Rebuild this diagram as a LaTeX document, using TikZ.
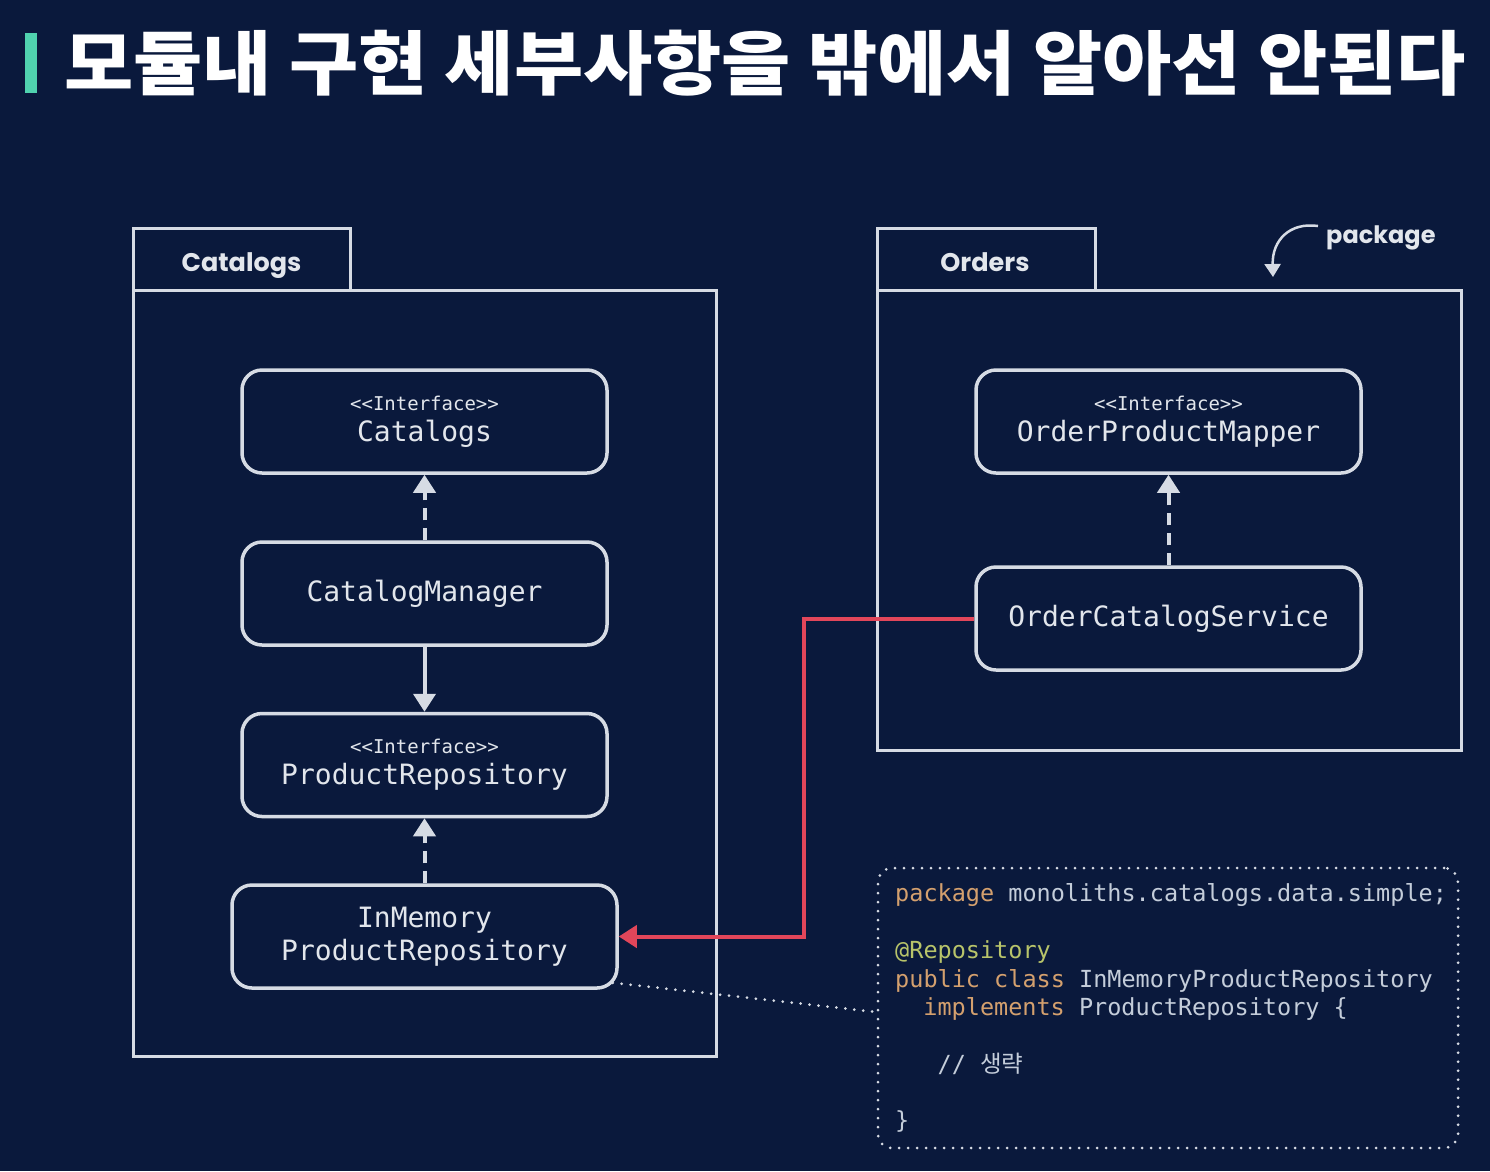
\documentclass[tikz,border=0pt]{standalone}
\usepackage{fontspec}
\setmonofont{DejaVu Sans Mono}
\newfontfamily\cjk{Noto Sans CJK KR}
\newfontfamily\rnd{Poppins}
\usetikzlibrary{arrows.meta,calc}
\definecolor{bgc}{RGB}{10,25,60}
\definecolor{linec}{RGB}{214,219,228}
\definecolor{txtc}{RGB}{226,230,236}
\definecolor{redc}{RGB}{226,70,90}
\definecolor{barc}{RGB}{80,210,175}
\definecolor{kwc}{RGB}{212,160,110}
\definecolor{annc}{RGB}{184,196,106}
\definecolor{codec}{RGB}{196,205,218}
\newcommand\stereo{{\fontsize{19}{22}\selectfont\symbol{60}\symbol{60}Interface\symbol{62}\symbol{62}}}
\tikzset{
  frame/.style={draw=linec, line width=3pt, inner sep=0pt},
  tabtext/.style={text=txtc, inner sep=0pt, font=\rnd\bfseries\fontsize{25.5}{30}\selectfont},
  cls/.style={draw=linec, line width=3.5pt, rounded corners=20pt, minimum width=365pt,
    minimum height=103pt, inner sep=0pt, text=txtc, align=center,
    font=\ttfamily\fontsize{28}{33}\selectfont},
  tip/.style={-{Triangle[length=18pt,width=22pt]}},
  dep/.style={tip, draw=linec, line width=4pt, dash pattern=on 12pt off 8pt},
  uses/.style={tip, draw=linec, line width=4pt},
  callred/.style={tip, draw=redc, line width=4pt},
  dotline/.style={draw=linec, line width=3pt, line cap=round, dash pattern=on 0pt off 9pt},
  codeline/.style={anchor=base west, inner sep=0pt, text=codec, font=\ttfamily\fontsize{23.5}{28}\selectfont},
}
\begin{document}
\begin{tikzpicture}[x=1pt,y=-1pt]
\useasboundingbox (0,0) rectangle (1490,1171);
\fill[bgc] (0,0) rectangle (1490,1171);

% title
\node[fill=barc, minimum width=12pt, minimum height=60pt, inner sep=0pt] (bar) at (31,63) {};
\node[anchor=base west, inner sep=0pt, text=white, font=\cjk\bfseries\fontsize{70}{70}\selectfont] (title) at (64,89) {\scalebox{1.075}[1]{모듈내 구현 세부사항을 밖에서 알아선 안된다}};

% Catalogs package
\node[frame, minimum width=217pt, minimum height=62pt] (cattab) at (241.5,259) {};
\node[tabtext, anchor=base] (cattabtext) at (241.5,271) {Catalogs};
\node[frame, minimum width=583pt, minimum height=766pt] (catbody) at (424.5,673) {};

% Orders package
\node[frame, minimum width=218pt, minimum height=62pt] (ordtab) at (986,259) {};
\node[tabtext, anchor=base] (ordtabtext) at (985,271) {Orders};
\node[frame, minimum width=584pt, minimum height=460pt] (ordbody) at (1169,520) {};

% package annotation
\node[tabtext, anchor=base west, font=\rnd\bfseries\fontsize{24}{28}\selectfont] (pkglabel) at (1326,243) {package};
\coordinate (pkgstart) at (1318,226);
\coordinate (pkgend) at (1273,277);
\draw[draw=linec, line width=2.5pt, -{Triangle[length=13pt,width=16pt]}] (pkgstart) .. controls (1290,222) and (1272,240) .. (pkgend);

% classes
\node[cls] (cat) at (424.5,421.5) {\stereo\\[-2pt]Catalogs};
\node[cls] (cm) at (424.5,593.5) {CatalogManager};
\node[cls] (pr) at (424.5,765) {\stereo\\[-2pt]ProductRepository};
\node[cls, minimum width=385pt] (inmem) at (424.5,936.5) {InMemory\\ProductRepository};
\node[cls, minimum width=385pt] (opm) at (1168.5,421.5) {\stereo\\[-2pt]OrderProductMapper};
\node[cls, minimum width=385pt] (ocs) at (1168.5,618.5) {OrderCatalogService};

% connectors
\draw[dep] (cm.north) -- (cat.south);
\draw[uses] (cm.south) -- (pr.north);
\draw[dep] (inmem.north) -- (pr.south);
\draw[dep] (ocs.north) -- (opm.south);
\draw[callred] (ocs.west) -- ++(-170,0) |- (inmem.east);

% code box
\node[draw=linec, line width=3pt, line cap=round, dash pattern=on 0pt off 9pt, rounded corners=14pt,
  minimum width=580pt, minimum height=280pt, inner sep=0pt] (code) at (1168,1008) {};
\draw[dotline] ([xshift=-6pt,yshift=7pt]inmem.south east) -- ([yshift=-4pt]code.west);

\node[codeline] (c1) at (895,901) {{\color{kwc}package} monoliths.catalogs.data.simple;};
\node[codeline, text=annc] (c2) at (895,958) {@Repository};
\node[codeline] (c3) at (895,987) {{\color{kwc}public class} InMemoryProductRepository};
\node[codeline] (c4) at (923.2,1015) {{\color{kwc}implements} ProductRepository \{};
\node[codeline] (c5) at (937.5,1072) {// {\cjk 생략}};
\node[codeline] (c6) at (895,1128) {\}};
\end{tikzpicture}
\end{document}
